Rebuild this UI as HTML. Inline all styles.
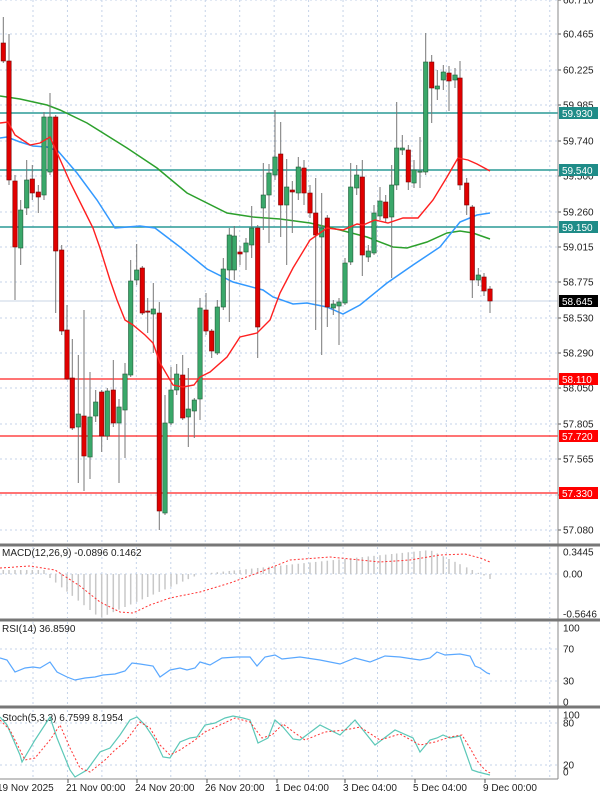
<!DOCTYPE html>
<html><head><meta charset="utf-8"><style>
html,body{margin:0;padding:0;background:#fff;width:600px;height:797px;overflow:hidden}
svg text{font-family:"Liberation Sans",sans-serif;font-size:10px;fill:#222}
</style></head><body>
<svg id="s" width="600" height="797" xmlns="http://www.w3.org/2000/svg"></svg>
<script>
const S=document.getElementById('s');let h='';
const P=(d,st)=>h+=`<path d="${d}" ${st}/>`;
const L=(pts)=>'M'+pts.map(p=>p.join(',')).join('L');
const vx=[];for(let x=33;x<556;x+=34.45)vx.push(x);
vx.forEach(x=>{P(`M${x},0V543M${x},547V618M${x},622V705M${x},710V778`,'stroke="#c5d3e8" stroke-dasharray="2,3" fill="none"');});
const pl=[[0,'60.710'],[34,'60.465'],[70,'60.225'],[105,'59.985'],[141,'59.740'],[176,'59.500'],[212,'59.260'],[247,'59.015'],[282,'58.775'],[318,'58.530'],[353,'58.290'],[388,'58.050'],[424,'57.805'],[459,'57.565'],[495,'57.330'],[530,'57.080']];
pl.forEach(([y,t])=>{P(`M0,${y}H557`,'stroke="#c5d3e8" stroke-dasharray="2,3"');P(`M558,${y}h3`,'stroke="#555"');h+=`<text x="563" y="${y+3.5}">${t}</text>`;});
[[113,'59.930'],[170,'59.540'],[227,'59.150']].forEach(([y,t])=>{P(`M0,${y}H558`,'stroke="#2a9a96" stroke-width="1.6"');h+=`<rect x="559" y="${y-6}" width="39" height="12" fill="#1f8c88"/><text x="562" y="${y+4}" style="fill:#fff">${t}</text>`;});
[[379,'58.110'],[436,'57.720'],[493,'57.330']].forEach(([y,t])=>{P(`M0,${y}H558`,'stroke="#f22" stroke-width="1.3"');h+=`<rect x="559" y="${y-6}" width="39" height="12" fill="#f00"/><text x="562" y="${y+4}" style="fill:#fff">${t}</text>`;});
P('M0,301H558','stroke="#c8d4e6"');h+=`<rect x="559" y="295" width="39" height="12" fill="#000"/><text x="562" y="305" style="fill:#fff">58.645</text>`;
P(L([[0,96],[20,99],[47,105],[60,110],[87,123],[127,148],[157,168],[187,193],[227,213],[253,217],[280,219],[310,223],[340,230],[367,237],[393,247],[407,248],[427,242],[447,233],[460,231],[473,233],[490,239]]),'stroke="#2ca02c" stroke-width="1.5" fill="none"');
P(L([[0,138],[7,137],[20,142],[33,146],[47,147],[58,151],[77,173],[97,200],[115,228],[140,226],[155,228],[180,247],[207,269],[233,282],[263,290],[273,297],[293,304],[307,303],[327,307],[343,314],[360,305],[387,283],[413,265],[440,247],[460,222],[477,215],[490,213]]),'stroke="#3399ff" stroke-width="1.5" fill="none"');
const C=[[3.3,43,61,17,63,0],[9,61,180,34,185,0],[15,181,247,175,300,0],[20.7,248,210,200,265,1],[26.7,208,180,160,215,1],[32.3,179,193,165,200,0],[38.3,192,197,185,213,0],[44,195,117,112,200,1],[50,172,117,93,175,1],[55.7,117,251,115,313,0],[61.7,250,331,245,335,0],[67,330,379,305,380,0],[72.3,378,428,339,430,0],[78.3,427,414,355,483,1],[84,416,456,310,491,0],[90,457,417,372,479,1],[95.7,416,402,390,422,1],[101.7,392,436,390,452,0],[107.3,436,391,388,440,1],[113.3,390,423,360,427,0],[119,423,407,399,483,1],[125,410,374,363,458,1],[130.7,375,281,260,377,1],[136.7,280,270,244,285,1],[142.3,268,313,266,315,0],[147.7,311,312,298,333,0],[153.3,314,309,283,353,1],[159.3,313,511,302,530,0],[165,513,423,395,515,1],[171,423,390,367,425,1],[176.7,390,374,364,395,1],[182.7,375,418,355,420,0],[188.3,417,409,368,447,1],[194.3,411,400,398,438,1],[200,399,308,298,420,1],[206,310,331,293,335,0],[211.7,331,351,329,358,0],[217.3,353,307,300,355,1],[223.3,307,269,258,310,1],[229.3,270,235,228,322,1],[234.3,270,236,226,280,1],[240,252,254,246,265,0],[246,252,243,238,270,1],[251.7,245,228,206,258,1],[257.7,228,327,225,358,0],[263.3,208,195,163,230,1],
[269,195,173,164,243,1],[275,175,157,110,180,1],[280.7,154,205,122,237,0],[286.7,205,187,159,265,1],[292.3,190,192,181,233,0],[298.3,193,167,157,200,1],[304,168,193,160,205,0],[310,193,213,185,218,0],[315.7,213,235,178,330,0],[321.7,237,228,193,355,1],[327.3,218,307,215,327,0],[333.3,308,304,300,315,1],[339,306,302,298,345,1],[345,303,263,258,305,1],[350.7,262,187,163,265,1],[356.7,188,175,165,195,1],[362.3,177,255,160,276,0],[368.3,257,251,245,262,1],[374,253,213,205,255,1],[380,216,201,187,220,1],[385.7,202,218,195,222,0],[391.7,217,185,165,278,1],[396.7,185,148,102,190,1],[402.3,150,148,135,155,1],[408.3,150,182,145,190,0],[414,183,170,160,188,1],[420,172,171,137,188,1],[425.7,172,62,33,175,1],[431.7,62,88,55,123,0],[437.3,89,86,70,100,1],[443.3,80,72,65,90,1],[449,73,81,66,111,0],[455,80,75,68,88,1],[460,78,185,61,190,0],[466.7,183,205,178,215,0],[472.3,207,280,205,298,0],[478.3,280,275,268,286,1],[484,277,291,273,296,0],[490,289,301,286,313,0]];
C.forEach(([x,o,c,hi,lo,g])=>{const t=Math.min(o,c),b=Math.max(o,c);P(`M${x},${hi}V${lo}`,'stroke="#777"');h+=`<rect x="${x-2.2}" y="${t}" width="4.4" height="${Math.max(b-t,1.2)}" fill="${g?'#3aa86a':'#e00000'}" stroke="${g?'#1d5a36':'#700'}" stroke-width="0.6"/>`;});
P(L([[0,123],[8,122],[15,135],[30,145],[40,143],[50,137],[55,148],[70,182],[83,208],[93,228],[100,248],[110,280],[117,300],[125,320],[133,325],[145,335],[153,343],[160,363],[173,385],[183,387],[194,385],[200,377],[210,372],[227,357],[240,337],[257,333],[270,320],[280,293],[293,268],[310,240],[327,228],[343,230],[357,224],[363,225],[375,220],[388,223],[403,218],[418,218],[433,200],[447,177],[458,158],[468,160],[477,164],[490,171]]),'stroke="#ff2020" stroke-width="1.4" fill="none"');
P('M558,0V779','stroke="#888"');
[545,620,707].forEach(y=>P(`M0,${y}H600`,'stroke="#777" stroke-width="3"'));
P('M0,779H558','stroke="#888"');
h+=`<text x="2" y="556">MACD(12,26,9) -0.0896 0.1462</text>`;
[[552,'0.3445'],[574,'0.00'],[614,'-0.5646']].forEach(([y,t])=>{h+=`<text x="563" y="${y+3.5}">${t}</text>`;});
P('M0,574H557','stroke="#c5d3e8" stroke-dasharray="2,3"');
const mv=x=>{ if(x<45)return 4; if(x<100)return -((x-45)/55)*44; if(x<200)return -44+((x-100)/100)*44; if(x<430)return ((x-200)/230)*24; if(x<485)return 24-((x-430)/55)*26; return -5;};
C.forEach(([x])=>{const v=mv(x);P(`M${x},574V${574-v}`,'stroke="#c8c8c8" stroke-width="1.5"');});
P(L([[0,568],[30,566],[55,570],[80,586],[100,602],[120,612],[133,613],[150,605],[170,598],[200,592],[230,583],[260,572],[290,560],[330,557],[360,560],[380,562],[410,560],[440,555],[465,554],[480,558],[490,562]]),'stroke="#f33" stroke-dasharray="2,2" fill="none"');
h+=`<text x="2" y="632">RSI(14) 36.8590</text>`;
[[628,'100'],[649,'70'],[681,'30'],[702,'0']].forEach(([y,t])=>{h+=`<text x="563" y="${y+3.5}">${t}</text>`;});
[649,681].forEach(y=>P(`M0,${y}H557`,'stroke="#c5d3e8" stroke-dasharray="2,3"'));
P(L([[0,658],[7,660],[15,672],[25,668],[33,667],[40,668],[50,662],[57,672],[67,677],[75,680],[85,678],[95,677],[103,675],[115,674],[125,671],[132,663],[140,664],[153,666],[160,677],[170,670],[180,668],[187,670],[195,668],[200,662],[210,665],[222,658],[237,657],[250,657],[257,666],[265,657],[275,655],[282,659],[300,657],[320,660],[340,664],[355,658],[370,662],[385,656],[400,657],[413,659],[420,660],[430,658],[437,652],[445,655],[460,654],[470,656],[475,666],[480,668],[487,673],[490,674]]),'stroke="#5aa8ff" stroke-width="1.2" fill="none"');
h+=`<text x="2" y="721">Stoch(5,3,3) 6.7599 8.1954</text>`;
[[715,'100'],[723,'80'],[765,'20'],[772,'0']].forEach(([y,t])=>{h+=`<text x="563" y="${y+3.5}">${t}</text>`;});
[723,765].forEach(y=>P(`M0,${y}H557`,'stroke="#c5d3e8" stroke-dasharray="2,3"'));
P(L([[0,717],[7,725],[20,755],[22,762],[35,740],[50,717],[57,738],[70,770],[75,777],[87,770],[100,752],[110,748],[120,735],[130,720],[137,717],[145,725],[155,740],[163,757],[170,758],[180,742],[190,738],[197,737],[205,725],[215,723],[225,718],[233,716],[243,718],[250,720],[258,743],[268,738],[275,720],[283,727],[293,739],[300,740],[320,725],[340,735],[355,720],[375,745],[395,730],[413,738],[420,752],[430,740],[437,738],[443,735],[450,738],[460,736],[466,753],[472,770],[478,772],[490,775]]),'stroke="#5cc8b8" stroke-width="1.2" fill="none"');
P(L([[0,720],[10,730],[25,760],[35,758],[50,740],[60,725],[70,748],[80,768],[90,772],[105,760],[115,750],[125,742],[140,722],[150,728],[160,745],[170,755],[180,750],[195,740],[205,732],[220,725],[235,718],[250,722],[262,738],[272,735],[283,724],[295,733],[305,740],[325,732],[345,730],[360,727],[380,740],[400,734],[420,745],[435,742],[450,737],[462,735],[470,748],[478,762],[485,770],[490,773]]),'stroke="#f33" stroke-dasharray="2,2" fill="none"');
[[-3,'19 Nov 2025'],[66,'21 Nov 00:00'],[135,'24 Nov 20:00'],[205,'26 Nov 20:00'],[275,'1 Dec 04:00'],[343,'3 Dec 04:00'],[413,'5 Dec 04:00'],[483,'9 Dec 00:00']].forEach(([x,t])=>{h+=`<text x="${x}" y="791">${t}</text>`;P(`M${x+2},779v4`,'stroke="#555"');});
S.innerHTML=h;
</script>
</body></html>
